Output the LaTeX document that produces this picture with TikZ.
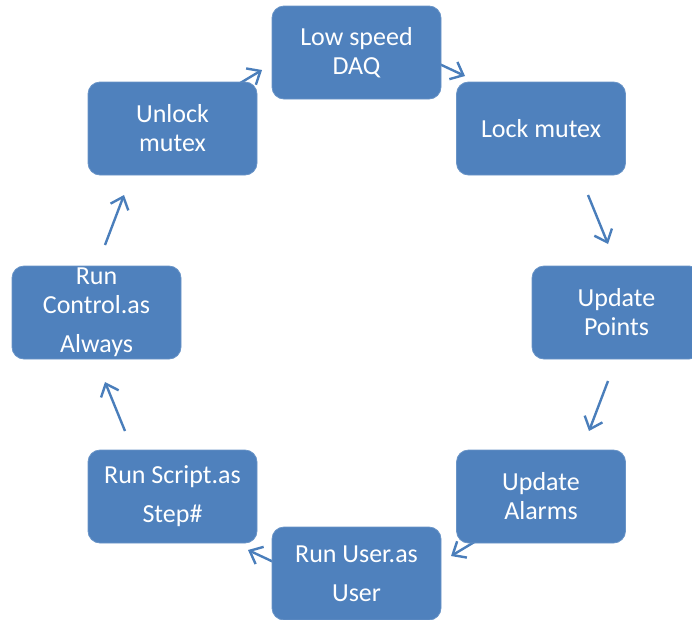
\documentclass[tikz,border=0pt]{standalone}
\usepackage{fontspec}
\setmainfont{Carlito}
\usetikzlibrary{arrows.meta,backgrounds}
\definecolor{boxblue}{HTML}{4F81BD}
\definecolor{arrowblue}{HTML}{4A7EBB}
\begin{document}
\begin{tikzpicture}[x=1pt,y=-1pt,
  stage/.style={rectangle, rounded corners=12pt, fill=boxblue,
    draw=boxblue!85!white, line width=0.8pt,
    minimum width=169pt, minimum height=93pt, inner sep=0pt,
    align=center, text=white, font=\fontsize{26}{29}\selectfont},
  cyc/.style={draw=arrowblue, line width=2.4pt,
    -{Straight Barb[length=11pt,width=19pt]}}]
\useasboundingbox (0,0) rectangle (692,619);
\clip (0,0) rectangle (692,619);

% the eight stages of the loop, clockwise from the top
\node[stage] (low)     at (356.5,52.5)  {Low speed\\DAQ};
\node[stage] (lock)    at (541,128.5)   {Lock mutex};
\node[stage] (points)  at (616.5,312.5) {Update\\Points};
\node[stage] (alarms)  at (541,496.5)   {Update\\Alarms};
\node[stage] (user)    at (356.5,573.5) {Run User.as\\[10pt]User};
\node[stage] (script)  at (172.5,496.5) {Run Script.as\\[10pt]Step\#};
\node[stage] (control) at (96.5,312.5)  {Run\\Control.as\\[10pt]Always};
\node[stage] (unlock)  at (172.5,128.5) {Unlock\\mutex};

% connectors between neighbouring stages, kept behind the boxes
\begin{scope}[on background layer]
  \draw[cyc] ([shift={(44.9,-31.8)}]unlock.center) -- ([shift={(-94.5,17.5)}]low.center);
  \draw[cyc] ([shift={(61.5,1.5)}]low.center)      -- ([shift={(-76,-52.5)}]lock.center);
  \draw[cyc] ([shift={(47,66.5)}]lock.center)      -- ([shift={(-8.5,-68.5)}]points.center);
  \draw[cyc] ([shift={(-8.5,68.5)}]points.center)  -- ([shift={(48,-65.5)}]alarms.center);
  \draw[cyc] ([shift={(-45.4,32.8)}]alarms.center) -- ([shift={(94.5,-17.5)}]user.center);
  \draw[cyc] ([shift={(-61.5,-1.5)}]user.center)   -- ([shift={(75.5,53.5)}]script.center);
  \draw[cyc] ([shift={(-47.5,-65.5)}]script.center) -- ([shift={(8.5,69.5)}]control.center);
  \draw[cyc] ([shift={(8.5,-67.5)}]control.center) -- ([shift={(-48.5,66.5)}]unlock.center);
\end{scope}
\end{tikzpicture}
\end{document}
